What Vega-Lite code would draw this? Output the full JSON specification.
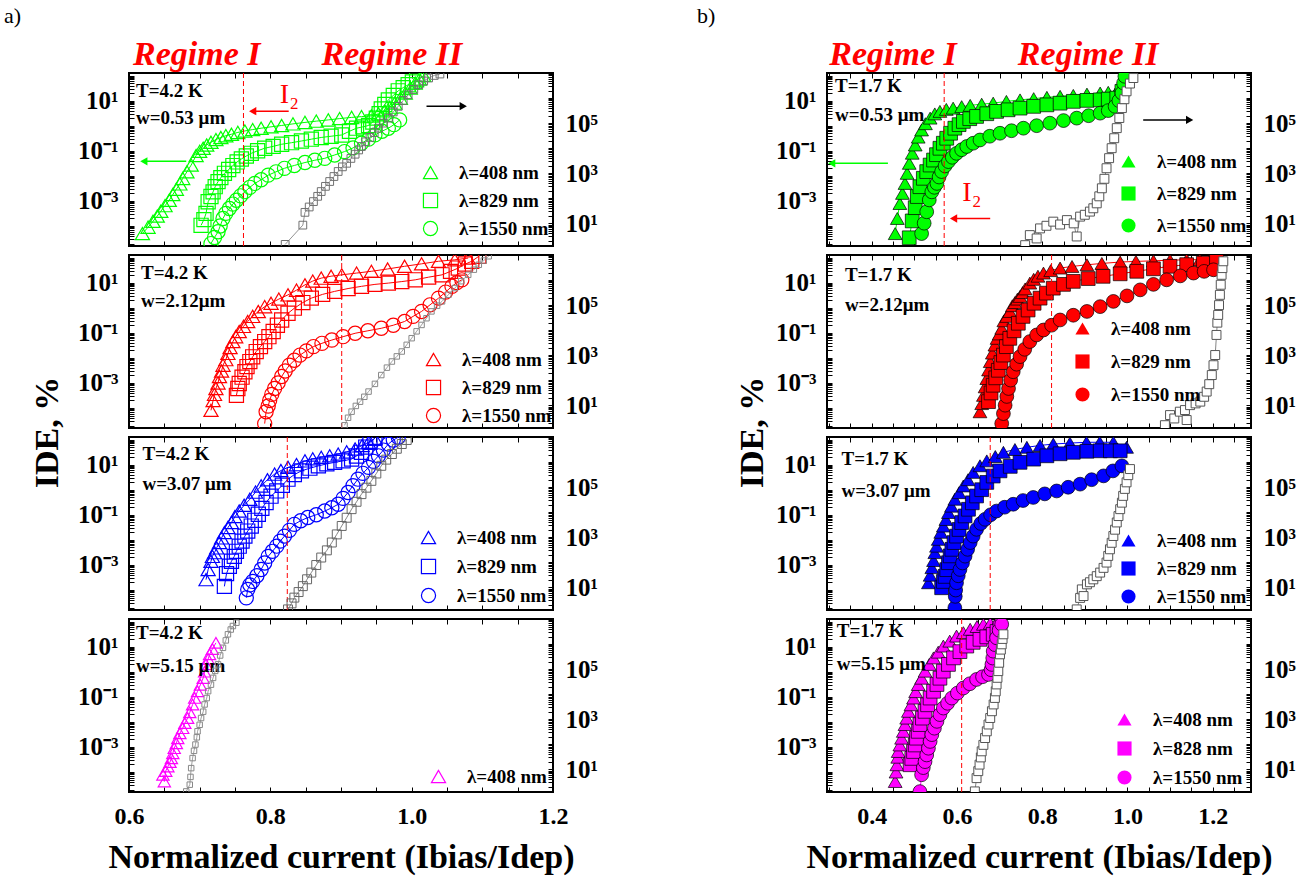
{
"$schema":"https://vega.github.io/schema/vega-lite/v6.json",
"padding":{"left":4,"top":4,"right":5,"bottom":5},
"spacing":98,
"config":{
 "font":"Liberation Serif",
 "view":{"stroke":"black","strokeWidth":2},
 "axis":{"domain":false,"grid":false,"tickSize":5,"offset":-5,"tickColor":"black","tickWidth":1,"labelFont":"Liberation Serif","labelFontSize":24,"labelFontWeight":"bold","labelColor":"black","labelOverlap":false,"labelFlush":false,"titleFont":"Liberation Serif","titleFontSize":34,"titleFontWeight":"bold","titleColor":"black","minExtent":0},
 "axisY":{"labelFontSize":25},
 "legend":{"labelFont":"Liberation Serif","labelFontSize":19,"labelFontWeight":"bold","labelColor":"black"},
 "title":{"font":"Liberation Serif","fontSize":22,"fontWeight":"normal","color":"black"}
},
"resolve":{"scale":{"shape":"independent","color":"independent"},"legend":{"shape":"independent","color":"independent"}},
"datasets":{
"A1":[
{"s":"408","x":0.619,"y":5e-5},{"s":"408","x":0.627,"y":9e-5},{"s":"408","x":0.634,"y":1.55e-4},{"s":"408","x":0.640,"y":2.5e-4},{"s":"408","x":0.645,"y":3.9e-4},{"s":"408","x":0.651,"y":6.5e-4},{"s":"408","x":0.657,"y":1.07e-3},{"s":"408","x":0.662,"y":1.8e-3},{"s":"408","x":0.667,"y":2.95e-3},{"s":"408","x":0.672,"y":4.8e-3},{"s":"408","x":0.676,"y":7.9e-3},{"s":"408","x":0.682,"y":0.0145},{"s":"408","x":0.688,"y":0.0269},{"s":"408","x":0.695,"y":0.0646},{"s":"408","x":0.700,"y":0.095},{"s":"408","x":0.705,"y":0.126},{"s":"408","x":0.710,"y":0.17},{"s":"408","x":0.716,"y":0.219},{"s":"408","x":0.723,"y":0.28},{"s":"408","x":0.730,"y":0.339},{"s":"408","x":0.737,"y":0.40},{"s":"408","x":0.745,"y":0.457},{"s":"408","x":0.754,"y":0.54},{"s":"408","x":0.764,"y":0.617},{"s":"408","x":0.775,"y":0.70},{"s":"408","x":0.787,"y":0.794},{"s":"408","x":0.801,"y":0.90},{"s":"408","x":0.816,"y":1.02},{"s":"408","x":0.832,"y":1.18},{"s":"408","x":0.849,"y":1.35},{"s":"408","x":0.865,"y":1.52},{"s":"408","x":0.882,"y":1.70},{"s":"408","x":0.898,"y":1.92},{"s":"408","x":0.915,"y":2.14},{"s":"408","x":0.929,"y":2.3},{"s":"408","x":0.943,"y":2.45},{"s":"408","x":0.953,"y":3.0},{"s":"408","x":0.962,"y":3.89},{"s":"408","x":0.969,"y":5.5},{"s":"408","x":0.976,"y":7.94},{"s":"408","x":0.984,"y":12.5},{"s":"408","x":0.991,"y":20},{"s":"408","x":0.998,"y":32},{"s":"408","x":1.005,"y":50},{"s":"408","x":1.011,"y":72},{"s":"408","x":1.017,"y":102},
{"s":"829","x":0.702,"y":1.07e-4},{"s":"829","x":0.706,"y":1.8e-4},{"s":"829","x":0.709,"y":3.2e-4},{"s":"829","x":0.712,"y":9.3e-4},{"s":"829","x":0.716,"y":1.5e-3},{"s":"829","x":0.719,"y":2.3e-3},{"s":"829","x":0.722,"y":3.7e-3},{"s":"829","x":0.726,"y":5.9e-3},{"s":"829","x":0.730,"y":8.5e-3},{"s":"829","x":0.735,"y":0.0126},{"s":"829","x":0.741,"y":0.018},{"s":"829","x":0.747,"y":0.0257},{"s":"829","x":0.753,"y":0.036},{"s":"829","x":0.759,"y":0.047},{"s":"829","x":0.766,"y":0.062},{"s":"829","x":0.773,"y":0.079},{"s":"829","x":0.782,"y":0.10},{"s":"829","x":0.792,"y":0.126},{"s":"829","x":0.804,"y":0.15},{"s":"829","x":0.816,"y":0.182},{"s":"829","x":0.830,"y":0.21},{"s":"829","x":0.844,"y":0.245},{"s":"829","x":0.858,"y":0.29},{"s":"829","x":0.872,"y":0.339},{"s":"829","x":0.886,"y":0.38},{"s":"829","x":0.901,"y":0.427},{"s":"829","x":0.912,"y":0.6},{"s":"829","x":0.922,"y":0.794},{"s":"829","x":0.931,"y":0.9},{"s":"829","x":0.939,"y":1.02},{"s":"829","x":0.945,"y":1.4},{"s":"829","x":0.950,"y":2.0},{"s":"829","x":0.954,"y":3.0},{"s":"829","x":0.957,"y":4.68},{"s":"829","x":0.962,"y":7.0},{"s":"829","x":0.967,"y":10.7},{"s":"829","x":0.974,"y":16},{"s":"829","x":0.981,"y":24.5},{"s":"829","x":0.988,"y":33},{"s":"829","x":0.995,"y":42.7},{"s":"829","x":1.001,"y":55},{"s":"829","x":1.007,"y":67.6},
{"s":"1550","x":0.716,"y":2.0e-5},{"s":"1550","x":0.721,"y":3.5e-5},{"s":"1550","x":0.726,"y":5.9e-5},{"s":"1550","x":0.729,"y":1.0e-4},{"s":"1550","x":0.733,"y":2.0e-4},{"s":"1550","x":0.737,"y":3.2e-4},{"s":"1550","x":0.742,"y":5.0e-4},{"s":"1550","x":0.747,"y":7.5e-4},{"s":"1550","x":0.752,"y":1.07e-3},{"s":"1550","x":0.758,"y":1.6e-3},{"s":"1550","x":0.764,"y":2.34e-3},{"s":"1550","x":0.771,"y":3.5e-3},{"s":"1550","x":0.778,"y":5.0e-3},{"s":"1550","x":0.787,"y":7.0e-3},{"s":"1550","x":0.797,"y":0.0107},{"s":"1550","x":0.808,"y":0.0145},{"s":"1550","x":0.820,"y":0.020},{"s":"1550","x":0.834,"y":0.026},{"s":"1550","x":0.849,"y":0.034},{"s":"1550","x":0.863,"y":0.042},{"s":"1550","x":0.877,"y":0.050},{"s":"1550","x":0.891,"y":0.068},{"s":"1550","x":0.905,"y":0.093},{"s":"1550","x":0.917,"y":0.13},{"s":"1550","x":0.929,"y":0.20},{"s":"1550","x":0.939,"y":0.29},{"s":"1550","x":0.948,"y":0.43},{"s":"1550","x":0.958,"y":0.6},{"s":"1550","x":0.967,"y":0.794},{"s":"1550","x":0.975,"y":1.1},{"s":"1550","x":0.983,"y":1.7},
{"s":"cnt","x":0.821,"y":1.45},{"s":"cnt","x":0.846,"y":8.5},{"s":"cnt","x":0.849,"y":27.5},{"s":"cnt","x":0.855,"y":45},{"s":"cnt","x":0.861,"y":74},{"s":"cnt","x":0.867,"y":120},{"s":"cnt","x":0.872,"y":186},{"s":"cnt","x":0.878,"y":300},{"s":"cnt","x":0.884,"y":468},{"s":"cnt","x":0.890,"y":740},{"s":"cnt","x":0.896,"y":1175},{"s":"cnt","x":0.902,"y":1800},{"s":"cnt","x":0.908,"y":2500},{"s":"cnt","x":0.914,"y":3900},{"s":"cnt","x":0.920,"y":5750},{"s":"cnt","x":0.925,"y":8500},{"s":"cnt","x":0.929,"y":11700},{"s":"cnt","x":0.935,"y":18000},{"s":"cnt","x":0.941,"y":26900},{"s":"cnt","x":0.947,"y":42000},{"s":"cnt","x":0.953,"y":63000},{"s":"cnt","x":0.960,"y":100000},{"s":"cnt","x":0.967,"y":158000},{"s":"cnt","x":0.974,"y":280000},{"s":"cnt","x":0.981,"y":468000},{"s":"cnt","x":0.988,"y":800000},{"s":"cnt","x":0.995,"y":1350000},{"s":"cnt","x":1.003,"y":2200000},{"s":"cnt","x":1.010,"y":3390000},{"s":"cnt","x":1.017,"y":4800000},{"s":"cnt","x":1.024,"y":6300000},{"s":"cnt","x":1.032,"y":8000000},{"s":"cnt","x":1.040,"y":9100000}
],
"A2":[
{"s":"408","x":0.716,"y":8.1e-5},{"s":"408","x":0.719,"y":2.0e-4},{"s":"408","x":0.721,"y":3.5e-4},{"s":"408","x":0.723,"y":6.0e-4},{"s":"408","x":0.726,"y":1.0e-3},{"s":"408","x":0.728,"y":1.8e-3},{"s":"408","x":0.731,"y":3.0e-3},{"s":"408","x":0.733,"y":5.1e-3},{"s":"408","x":0.737,"y":8.5e-3},{"s":"408","x":0.740,"y":0.0151},{"s":"408","x":0.743,"y":0.026},{"s":"408","x":0.747,"y":0.0447},{"s":"408","x":0.751,"y":0.07},{"s":"408","x":0.756,"y":0.112},{"s":"408","x":0.762,"y":0.18},{"s":"408","x":0.768,"y":0.282},{"s":"408","x":0.775,"y":0.45},{"s":"408","x":0.783,"y":0.708},{"s":"408","x":0.792,"y":1.1},{"s":"408","x":0.801,"y":1.51},{"s":"408","x":0.812,"y":2.2},{"s":"408","x":0.825,"y":3.24},{"s":"408","x":0.837,"y":5.0},{"s":"408","x":0.849,"y":8.13},{"s":"408","x":0.860,"y":11.5},{"s":"408","x":0.872,"y":15.1},{"s":"408","x":0.886,"y":18},{"s":"408","x":0.901,"y":20.4},{"s":"408","x":0.922,"y":24},{"s":"408","x":0.943,"y":28.2},{"s":"408","x":0.966,"y":35},{"s":"408","x":0.990,"y":44.7},{"s":"408","x":1.014,"y":56},{"s":"408","x":1.038,"y":70.8},{"s":"408","x":1.061,"y":81},{"s":"408","x":1.080,"y":95},
{"s":"829","x":0.752,"y":3.2e-4},{"s":"829","x":0.754,"y":6.0e-4},{"s":"829","x":0.756,"y":9.5e-4},{"s":"829","x":0.760,"y":1.7e-3},{"s":"829","x":0.764,"y":2.8e-3},{"s":"829","x":0.767,"y":4.5e-3},{"s":"829","x":0.771,"y":7.1e-3},{"s":"829","x":0.775,"y":0.011},{"s":"829","x":0.780,"y":0.0178},{"s":"829","x":0.786,"y":0.028},{"s":"829","x":0.792,"y":0.0447},{"s":"829","x":0.798,"y":0.07},{"s":"829","x":0.804,"y":0.112},{"s":"829","x":0.810,"y":0.2},{"s":"829","x":0.816,"y":0.324},{"s":"829","x":0.825,"y":0.6},{"s":"829","x":0.834,"y":0.955},{"s":"829","x":0.846,"y":1.6},{"s":"829","x":0.858,"y":2.4},{"s":"829","x":0.874,"y":3.4},{"s":"829","x":0.891,"y":4.47},{"s":"829","x":0.910,"y":5.8},{"s":"829","x":0.929,"y":7.1},{"s":"829","x":0.948,"y":8.5},{"s":"829","x":0.967,"y":9.55},{"s":"829","x":0.986,"y":11},{"s":"829","x":1.005,"y":12.9},{"s":"829","x":1.024,"y":16.5},{"s":"829","x":1.043,"y":20.4},{"s":"829","x":1.055,"y":28},{"s":"829","x":1.066,"y":38},{"s":"829","x":1.076,"y":55},{"s":"829","x":1.085,"y":70.8},{"s":"829","x":1.095,"y":112},
{"s":"1550","x":0.792,"y":2.4e-5},{"s":"1550","x":0.794,"y":7.1e-5},{"s":"1550","x":0.797,"y":1.2e-4},{"s":"1550","x":0.799,"y":2.0e-4},{"s":"1550","x":0.802,"y":3.5e-4},{"s":"1550","x":0.806,"y":6.0e-4},{"s":"1550","x":0.811,"y":1.0e-3},{"s":"1550","x":0.816,"y":1.8e-3},{"s":"1550","x":0.821,"y":3.0e-3},{"s":"1550","x":0.827,"y":5.1e-3},{"s":"1550","x":0.834,"y":8.0e-3},{"s":"1550","x":0.842,"y":0.0129},{"s":"1550","x":0.851,"y":0.019},{"s":"1550","x":0.861,"y":0.0282},{"s":"1550","x":0.873,"y":0.038},{"s":"1550","x":0.887,"y":0.0513},{"s":"1550","x":0.903,"y":0.07},{"s":"1550","x":0.920,"y":0.0955},{"s":"1550","x":0.938,"y":0.12},{"s":"1550","x":0.957,"y":0.151},{"s":"1550","x":0.974,"y":0.2},{"s":"1550","x":0.990,"y":0.282},{"s":"1550","x":1.002,"y":0.45},{"s":"1550","x":1.014,"y":0.708},{"s":"1550","x":1.026,"y":1.3},{"s":"1550","x":1.038,"y":2.4},{"s":"1550","x":1.048,"y":4.2},{"s":"1550","x":1.057,"y":7.1},{"s":"1550","x":1.064,"y":10},{"s":"1550","x":1.071,"y":12.9},
{"s":"cnt","x":0.905,"y":1.6},{"s":"cnt","x":0.910,"y":3.2},{"s":"cnt","x":0.915,"y":5.6},{"s":"cnt","x":0.921,"y":9.5},{"s":"cnt","x":0.927,"y":14},{"s":"cnt","x":0.933,"y":22},{"s":"cnt","x":0.939,"y":35.5},{"s":"cnt","x":0.948,"y":72},{"s":"cnt","x":0.957,"y":162},{"s":"cnt","x":0.965,"y":320},{"s":"cnt","x":0.972,"y":562},{"s":"cnt","x":0.979,"y":900},{"s":"cnt","x":0.986,"y":1410},{"s":"cnt","x":0.993,"y":2600},{"s":"cnt","x":1.000,"y":4790},{"s":"cnt","x":1.007,"y":9000},{"s":"cnt","x":1.014,"y":16200},{"s":"cnt","x":1.021,"y":30000},{"s":"cnt","x":1.028,"y":56200},{"s":"cnt","x":1.036,"y":95000},{"s":"cnt","x":1.043,"y":141000},{"s":"cnt","x":1.052,"y":260000},{"s":"cnt","x":1.061,"y":479000},{"s":"cnt","x":1.070,"y":900000},{"s":"cnt","x":1.080,"y":1620000},{"s":"cnt","x":1.088,"y":2600000},{"s":"cnt","x":1.095,"y":4070000},{"s":"cnt","x":1.102,"y":6000000},{"s":"cnt","x":1.109,"y":8900000}
],
"A3":[
{"s":"408","x":0.709,"y":2.6e-4},{"s":"408","x":0.712,"y":6.6e-4},{"s":"408","x":0.716,"y":1.4e-3},{"s":"408","x":0.718,"y":2.2e-3},{"s":"408","x":0.721,"y":3.1e-3},{"s":"408","x":0.724,"y":4.8e-3},{"s":"408","x":0.728,"y":7.8e-3},{"s":"408","x":0.731,"y":0.012},{"s":"408","x":0.735,"y":0.0195},{"s":"408","x":0.740,"y":0.031},{"s":"408","x":0.745,"y":0.049},{"s":"408","x":0.750,"y":0.085},{"s":"408","x":0.756,"y":0.141},{"s":"408","x":0.763,"y":0.24},{"s":"408","x":0.771,"y":0.417},{"s":"408","x":0.779,"y":0.8},{"s":"408","x":0.787,"y":1.41},{"s":"408","x":0.796,"y":2.5},{"s":"408","x":0.806,"y":4.17},{"s":"408","x":0.815,"y":5.8},{"s":"408","x":0.825,"y":7.76},{"s":"408","x":0.837,"y":10},{"s":"408","x":0.849,"y":14.1},{"s":"408","x":0.860,"y":17},{"s":"408","x":0.872,"y":19.5},{"s":"408","x":0.884,"y":22.4},{"s":"408","x":0.896,"y":26.3},{"s":"408","x":0.908,"y":32},{"s":"408","x":0.920,"y":41.7},{"s":"408","x":0.930,"y":58},{"s":"408","x":0.939,"y":77.6},{"s":"408","x":0.948,"y":112},
{"s":"829","x":0.735,"y":1.4e-4},{"s":"829","x":0.738,"y":4.5e-4},{"s":"829","x":0.742,"y":8.9e-4},{"s":"829","x":0.745,"y":1.4e-3},{"s":"829","x":0.749,"y":2.2e-3},{"s":"829","x":0.752,"y":3.5e-3},{"s":"829","x":0.756,"y":5.6e-3},{"s":"829","x":0.760,"y":8.9e-3},{"s":"829","x":0.764,"y":0.0141},{"s":"829","x":0.768,"y":0.0224},{"s":"829","x":0.773,"y":0.0355},{"s":"829","x":0.778,"y":0.06},{"s":"829","x":0.783,"y":0.105},{"s":"829","x":0.788,"y":0.18},{"s":"829","x":0.794,"y":0.309},{"s":"829","x":0.801,"y":0.55},{"s":"829","x":0.809,"y":0.891},{"s":"829","x":0.817,"y":1.5},{"s":"829","x":0.825,"y":2.63},{"s":"829","x":0.834,"y":4.0},{"s":"829","x":0.844,"y":5.62},{"s":"829","x":0.856,"y":7.2},{"s":"829","x":0.868,"y":8.91},{"s":"829","x":0.880,"y":10.7},{"s":"829","x":0.891,"y":12.3},{"s":"829","x":0.903,"y":14.1},{"s":"829","x":0.915,"y":16.6},{"s":"829","x":0.922,"y":22},{"s":"829","x":0.929,"y":30.9},{"s":"829","x":0.935,"y":50},{"s":"829","x":0.941,"y":77.6},{"s":"829","x":0.948,"y":112},
{"s":"1550","x":0.766,"y":4.9e-5},{"s":"1550","x":0.768,"y":1.05e-4},{"s":"1550","x":0.771,"y":1.6e-4},{"s":"1550","x":0.775,"y":2.2e-4},{"s":"1550","x":0.781,"y":3.7e-4},{"s":"1550","x":0.787,"y":6.6e-4},{"s":"1550","x":0.792,"y":1.2e-3},{"s":"1550","x":0.797,"y":2.2e-3},{"s":"1550","x":0.803,"y":3.5e-3},{"s":"1550","x":0.809,"y":5.6e-3},{"s":"1550","x":0.814,"y":8.9e-3},{"s":"1550","x":0.820,"y":0.0141},{"s":"1550","x":0.827,"y":0.024},{"s":"1550","x":0.834,"y":0.0417},{"s":"1550","x":0.843,"y":0.058},{"s":"1550","x":0.853,"y":0.0776},{"s":"1550","x":0.865,"y":0.1},{"s":"1550","x":0.877,"y":0.141},{"s":"1550","x":0.887,"y":0.19},{"s":"1550","x":0.896,"y":0.263},{"s":"1550","x":0.903,"y":0.45},{"s":"1550","x":0.910,"y":0.776},{"s":"1550","x":0.917,"y":1.45},{"s":"1550","x":0.924,"y":2.63},{"s":"1550","x":0.931,"y":4.5},{"s":"1550","x":0.939,"y":7.76},{"s":"1550","x":0.946,"y":13.5},{"s":"1550","x":0.953,"y":22.4},{"s":"1550","x":0.960,"y":38},{"s":"1550","x":0.967,"y":66},{"s":"1550","x":0.974,"y":95},{"s":"1550","x":0.981,"y":123},
{"s":"cnt","x":0.825,"y":1.32},{"s":"cnt","x":0.830,"y":2.3},{"s":"cnt","x":0.834,"y":3.9},{"s":"cnt","x":0.840,"y":6.5},{"s":"cnt","x":0.846,"y":11.2},{"s":"cnt","x":0.852,"y":21},{"s":"cnt","x":0.858,"y":38.9},{"s":"cnt","x":0.865,"y":78},{"s":"cnt","x":0.872,"y":155},{"s":"cnt","x":0.880,"y":300},{"s":"cnt","x":0.887,"y":617},{"s":"cnt","x":0.894,"y":1300},{"s":"cnt","x":0.901,"y":2820},{"s":"cnt","x":0.908,"y":6000},{"s":"cnt","x":0.915,"y":13200},{"s":"cnt","x":0.922,"y":26000},{"s":"cnt","x":0.929,"y":52500},{"s":"cnt","x":0.936,"y":95000},{"s":"cnt","x":0.943,"y":178000},{"s":"cnt","x":0.950,"y":350000},{"s":"cnt","x":0.957,"y":708000},{"s":"cnt","x":0.964,"y":1250000},{"s":"cnt","x":0.972,"y":2090000},{"s":"cnt","x":0.979,"y":3400000},{"s":"cnt","x":0.986,"y":5250000},{"s":"cnt","x":0.993,"y":7600000}
],
"A4":[
{"s":"408","x":0.650,"y":4.2e-5},{"s":"408","x":0.648,"y":7.8e-5},{"s":"408","x":0.652,"y":1.1e-4},{"s":"408","x":0.655,"y":1.66e-4},{"s":"408","x":0.658,"y":2.5e-4},{"s":"408","x":0.660,"y":3.5e-4},{"s":"408","x":0.662,"y":5.6e-4},{"s":"408","x":0.664,"y":8.9e-4},{"s":"408","x":0.667,"y":1.4e-3},{"s":"408","x":0.669,"y":2.2e-3},{"s":"408","x":0.672,"y":3.5e-3},{"s":"408","x":0.676,"y":5.6e-3},{"s":"408","x":0.679,"y":8.9e-3},{"s":"408","x":0.683,"y":0.0141},{"s":"408","x":0.686,"y":0.024},{"s":"408","x":0.690,"y":0.049},{"s":"408","x":0.693,"y":0.09},{"s":"408","x":0.697,"y":0.166},{"s":"408","x":0.701,"y":0.3},{"s":"408","x":0.705,"y":0.56},{"s":"408","x":0.707,"y":1.0},{"s":"408","x":0.709,"y":1.95},{"s":"408","x":0.712,"y":3.2},{"s":"408","x":0.714,"y":4.9},{"s":"408","x":0.718,"y":8.0},{"s":"408","x":0.723,"y":14.1},
{"s":"cnt","x":0.681,"y":1.32},{"s":"cnt","x":0.686,"y":2.45},{"s":"cnt","x":0.687,"y":5.0},{"s":"cnt","x":0.688,"y":11.2},{"s":"cnt","x":0.690,"y":28.2},{"s":"cnt","x":0.692,"y":55},{"s":"cnt","x":0.694,"y":97.7},{"s":"cnt","x":0.696,"y":190},{"s":"cnt","x":0.697,"y":331},{"s":"cnt","x":0.700,"y":600},{"s":"cnt","x":0.702,"y":1120},{"s":"cnt","x":0.705,"y":2000},{"s":"cnt","x":0.707,"y":3890},{"s":"cnt","x":0.710,"y":7000},{"s":"cnt","x":0.712,"y":13200},{"s":"cnt","x":0.716,"y":24000},{"s":"cnt","x":0.719,"y":44700},{"s":"cnt","x":0.722,"y":85000},{"s":"cnt","x":0.726,"y":155000},{"s":"cnt","x":0.729,"y":350000},{"s":"cnt","x":0.733,"y":708000},{"s":"cnt","x":0.737,"y":1400000},{"s":"cnt","x":0.740,"y":2450000},{"s":"cnt","x":0.744,"y":3800000},{"s":"cnt","x":0.747,"y":5250000},{"s":"cnt","x":0.752,"y":7100000}
],
"B1":[
{"s":"408","x":0.455,"y":5.0e-5},{"s":"408","x":0.460,"y":2.0e-4},{"s":"408","x":0.466,"y":7.9e-4},{"s":"408","x":0.472,"y":2.0e-3},{"s":"408","x":0.478,"y":5.0e-3},{"s":"408","x":0.483,"y":0.0126},{"s":"408","x":0.488,"y":0.0316},{"s":"408","x":0.495,"y":0.08},{"s":"408","x":0.502,"y":0.17},{"s":"408","x":0.509,"y":0.35},{"s":"408","x":0.517,"y":0.676},{"s":"408","x":0.526,"y":1.2},{"s":"408","x":0.537,"y":2.0},{"s":"408","x":0.548,"y":2.95},{"s":"408","x":0.560,"y":3.72},{"s":"408","x":0.575,"y":4.47},{"s":"408","x":0.591,"y":5.01},{"s":"408","x":0.611,"y":5.75},{"s":"408","x":0.631,"y":6.46},{"s":"408","x":0.658,"y":7.2},{"s":"408","x":0.685,"y":7.94},{"s":"408","x":0.716,"y":9.3},{"s":"408","x":0.748,"y":10.7},{"s":"408","x":0.780,"y":12.0},{"s":"408","x":0.811,"y":13.5},{"s":"408","x":0.842,"y":14.8},{"s":"408","x":0.873,"y":16.2},{"s":"408","x":0.905,"y":18.2},{"s":"408","x":0.936,"y":20},{"s":"408","x":0.955,"y":21.4},{"s":"408","x":0.975,"y":23.4},{"s":"408","x":0.983,"y":40},{"s":"408","x":0.991,"y":58.9},
{"s":"829","x":0.488,"y":3.4e-5},{"s":"829","x":0.495,"y":1.6e-4},{"s":"829","x":0.502,"y":5.4e-4},{"s":"829","x":0.507,"y":1.5e-3},{"s":"829","x":0.513,"y":3.7e-3},{"s":"829","x":0.521,"y":8e-3},{"s":"829","x":0.529,"y":0.0148},{"s":"829","x":0.537,"y":0.027},{"s":"829","x":0.545,"y":0.0427},{"s":"829","x":0.552,"y":0.07},{"s":"829","x":0.560,"y":0.126},{"s":"829","x":0.568,"y":0.2},{"s":"829","x":0.576,"y":0.316},{"s":"829","x":0.585,"y":0.5},{"s":"829","x":0.595,"y":0.794},{"s":"829","x":0.605,"y":1.1},{"s":"829","x":0.615,"y":1.48},{"s":"829","x":0.630,"y":1.9},{"s":"829","x":0.646,"y":2.34},{"s":"829","x":0.670,"y":3.0},{"s":"829","x":0.693,"y":3.72},{"s":"829","x":0.720,"y":4.3},{"s":"829","x":0.748,"y":5.01},{"s":"829","x":0.780,"y":5.9},{"s":"829","x":0.811,"y":6.76},{"s":"829","x":0.842,"y":7.9},{"s":"829","x":0.873,"y":9.33},{"s":"829","x":0.905,"y":10.2},{"s":"829","x":0.936,"y":10.7},{"s":"829","x":0.955,"y":11.5},{"s":"829","x":0.975,"y":12.6},{"s":"829","x":0.987,"y":23.4},
{"s":"1550","x":0.517,"y":5.0e-5},{"s":"1550","x":0.523,"y":1.3e-4},{"s":"1550","x":0.529,"y":3.7e-4},{"s":"1550","x":0.535,"y":1.1e-3},{"s":"1550","x":0.541,"y":2.3e-3},{"s":"1550","x":0.547,"y":3.5e-3},{"s":"1550","x":0.553,"y":5.0e-3},{"s":"1550","x":0.558,"y":9e-3},{"s":"1550","x":0.564,"y":0.0148},{"s":"1550","x":0.572,"y":0.025},{"s":"1550","x":0.580,"y":0.037},{"s":"1550","x":0.589,"y":0.055},{"s":"1550","x":0.599,"y":0.079},{"s":"1550","x":0.611,"y":0.11},{"s":"1550","x":0.623,"y":0.148},{"s":"1550","x":0.638,"y":0.2},{"s":"1550","x":0.654,"y":0.269},{"s":"1550","x":0.677,"y":0.38},{"s":"1550","x":0.701,"y":0.50},{"s":"1550","x":0.728,"y":0.63},{"s":"1550","x":0.756,"y":0.794},{"s":"1550","x":0.787,"y":1.0},{"s":"1550","x":0.818,"y":1.26},{"s":"1550","x":0.850,"y":1.6},{"s":"1550","x":0.881,"y":2.0},{"s":"1550","x":0.909,"y":2.5},{"s":"1550","x":0.936,"y":3.16},{"s":"1550","x":0.955,"y":4.0},{"s":"1550","x":0.971,"y":5.9},{"s":"1550","x":0.980,"y":10},{"s":"1550","x":0.987,"y":20},{"s":"1550","x":0.991,"y":50},{"s":"1550","x":0.994,"y":93},
{"s":"cnt","x":0.760,"y":1.35},{"s":"cnt","x":0.771,"y":3.4},{"s":"cnt","x":0.787,"y":2.5},{"s":"cnt","x":0.795,"y":6.3},{"s":"cnt","x":0.810,"y":8},{"s":"cnt","x":0.826,"y":11.7},{"s":"cnt","x":0.842,"y":9},{"s":"cnt","x":0.858,"y":13.5},{"s":"cnt","x":0.874,"y":10},{"s":"cnt","x":0.881,"y":3},{"s":"cnt","x":0.889,"y":18.6},{"s":"cnt","x":0.900,"y":22},{"s":"cnt","x":0.912,"y":29.5},{"s":"cnt","x":0.920,"y":40},{"s":"cnt","x":0.928,"y":63},{"s":"cnt","x":0.934,"y":120},{"s":"cnt","x":0.940,"y":251},{"s":"cnt","x":0.946,"y":600},{"s":"cnt","x":0.951,"y":1585},{"s":"cnt","x":0.957,"y":4000},{"s":"cnt","x":0.963,"y":10000},{"s":"cnt","x":0.969,"y":25000},{"s":"cnt","x":0.975,"y":63100},{"s":"cnt","x":0.981,"y":160000},{"s":"cnt","x":0.987,"y":398000},{"s":"cnt","x":0.993,"y":900000},{"s":"cnt","x":0.998,"y":1860000},{"s":"cnt","x":1.006,"y":3800000},{"s":"cnt","x":1.014,"y":6300000}
],
"B2":[
{"s":"408","x":0.654,"y":7.1e-5},{"s":"408","x":0.658,"y":1.5e-4},{"s":"408","x":0.662,"y":3.2e-4},{"s":"408","x":0.666,"y":7.0e-4},{"s":"408","x":0.670,"y":1.5e-3},{"s":"408","x":0.674,"y":3.3e-3},{"s":"408","x":0.678,"y":7.1e-3},{"s":"408","x":0.683,"y":0.0155},{"s":"408","x":0.689,"y":0.0324},{"s":"408","x":0.694,"y":0.06},{"s":"408","x":0.699,"y":0.09},{"s":"408","x":0.705,"y":0.151},{"s":"408","x":0.710,"y":0.3},{"s":"408","x":0.717,"y":0.45},{"s":"408","x":0.724,"y":0.708},{"s":"408","x":0.730,"y":1.2},{"s":"408","x":0.736,"y":1.6},{"s":"408","x":0.742,"y":2.2},{"s":"408","x":0.748,"y":2.82},{"s":"408","x":0.754,"y":4.0},{"s":"408","x":0.760,"y":5.6},{"s":"408","x":0.771,"y":9.55},{"s":"408","x":0.780,"y":13.5},{"s":"408","x":0.790,"y":18},{"s":"408","x":0.803,"y":24},{"s":"408","x":0.820,"y":30},{"s":"408","x":0.842,"y":38},{"s":"408","x":0.870,"y":44},{"s":"408","x":0.905,"y":51.3},{"s":"408","x":0.940,"y":58},{"s":"408","x":0.983,"y":66},{"s":"408","x":1.020,"y":70},{"s":"408","x":1.061,"y":74},{"s":"408","x":1.100,"y":78},{"s":"408","x":1.139,"y":81.3},{"s":"408","x":1.170,"y":82},{"s":"408","x":1.194,"y":82},
{"s":"829","x":0.674,"y":1.8e-4},{"s":"829","x":0.680,"y":4e-4},{"s":"829","x":0.685,"y":8.1e-4},{"s":"829","x":0.691,"y":1.6e-3},{"s":"829","x":0.697,"y":3.2e-3},{"s":"829","x":0.703,"y":6.5e-3},{"s":"829","x":0.709,"y":0.0129},{"s":"829","x":0.716,"y":0.028},{"s":"829","x":0.724,"y":0.06},{"s":"829","x":0.734,"y":0.12},{"s":"829","x":0.744,"y":0.24},{"s":"829","x":0.755,"y":0.45},{"s":"829","x":0.767,"y":0.81},{"s":"829","x":0.781,"y":1.5},{"s":"829","x":0.795,"y":2.4},{"s":"829","x":0.810,"y":3.8},{"s":"829","x":0.826,"y":6.0},{"s":"829","x":0.850,"y":8.5},{"s":"829","x":0.873,"y":11.2},{"s":"829","x":0.908,"y":14.5},{"s":"829","x":0.943,"y":17.8},{"s":"829","x":0.983,"y":22.4},{"s":"829","x":1.022,"y":28.2},{"s":"829","x":1.061,"y":35.5},{"s":"829","x":1.100,"y":44.7},{"s":"829","x":1.139,"y":52},{"s":"829","x":1.178,"y":60},{"s":"829","x":1.209,"y":70.8},
{"s":"1550","x":0.705,"y":2.4e-5},{"s":"1550","x":0.709,"y":6e-5},{"s":"1550","x":0.713,"y":1.3e-4},{"s":"1550","x":0.717,"y":2.9e-4},{"s":"1550","x":0.721,"y":6.0e-4},{"s":"1550","x":0.726,"y":1.3e-3},{"s":"1550","x":0.732,"y":2.8e-3},{"s":"1550","x":0.740,"y":5.6e-3},{"s":"1550","x":0.748,"y":0.0112},{"s":"1550","x":0.759,"y":0.022},{"s":"1550","x":0.771,"y":0.0447},{"s":"1550","x":0.787,"y":0.082},{"s":"1550","x":0.803,"y":0.129},{"s":"1550","x":0.822,"y":0.2},{"s":"1550","x":0.842,"y":0.324},{"s":"1550","x":0.873,"y":0.5},{"s":"1550","x":0.905,"y":0.708},{"s":"1550","x":0.936,"y":1.1},{"s":"1550","x":0.967,"y":1.78},{"s":"1550","x":0.999,"y":2.95},{"s":"1550","x":1.030,"y":5.13},{"s":"1550","x":1.061,"y":8.5},{"s":"1550","x":1.092,"y":12.9},{"s":"1550","x":1.124,"y":18.5},{"s":"1550","x":1.155,"y":24},{"s":"1550","x":1.180,"y":28},{"s":"1550","x":1.202,"y":32.4},
{"s":"cnt","x":1.088,"y":1.62},{"s":"cnt","x":1.100,"y":4.1},{"s":"cnt","x":1.110,"y":3.0},{"s":"cnt","x":1.123,"y":5.6},{"s":"cnt","x":1.135,"y":6.5},{"s":"cnt","x":1.139,"y":2.6},{"s":"cnt","x":1.147,"y":10.2},{"s":"cnt","x":1.160,"y":12},{"s":"cnt","x":1.171,"y":14.1},{"s":"cnt","x":1.180,"y":22},{"s":"cnt","x":1.186,"y":35.5},{"s":"cnt","x":1.192,"y":70},{"s":"cnt","x":1.198,"y":162},{"s":"cnt","x":1.202,"y":400},{"s":"cnt","x":1.206,"y":1020},{"s":"cnt","x":1.209,"y":6460},{"s":"cnt","x":1.211,"y":20000},{"s":"cnt","x":1.213,"y":40700},{"s":"cnt","x":1.215,"y":100000},{"s":"cnt","x":1.217,"y":257000},{"s":"cnt","x":1.219,"y":650000},{"s":"cnt","x":1.221,"y":1620000},{"s":"cnt","x":1.223,"y":3000000},{"s":"cnt","x":1.225,"y":5620000}
],
"B3":[
{"s":"408","x":0.533,"y":1.95e-4},{"s":"408","x":0.537,"y":3.9e-4},{"s":"408","x":0.541,"y":7.8e-4},{"s":"408","x":0.545,"y":1.5e-3},{"s":"408","x":0.548,"y":3.1e-3},{"s":"408","x":0.552,"y":5.6e-3},{"s":"408","x":0.556,"y":0.0105},{"s":"408","x":0.562,"y":0.02},{"s":"408","x":0.568,"y":0.0355},{"s":"408","x":0.574,"y":0.065},{"s":"408","x":0.580,"y":0.123},{"s":"408","x":0.587,"y":0.22},{"s":"408","x":0.595,"y":0.417},{"s":"408","x":0.605,"y":0.76},{"s":"408","x":0.615,"y":1.41},{"s":"408","x":0.626,"y":2.5},{"s":"408","x":0.638,"y":4.9},{"s":"408","x":0.654,"y":9.0},{"s":"408","x":0.670,"y":14.1},{"s":"408","x":0.690,"y":21},{"s":"408","x":0.709,"y":30.9},{"s":"408","x":0.736,"y":40},{"s":"408","x":0.764,"y":49},{"s":"408","x":0.795,"y":58},{"s":"408","x":0.826,"y":66},{"s":"408","x":0.865,"y":72},{"s":"408","x":0.904,"y":77.6},{"s":"408","x":0.935,"y":77.6},{"s":"408","x":0.967,"y":77.6},{"s":"408","x":0.998,"y":49},
{"s":"829","x":0.564,"y":1.23e-4},{"s":"829","x":0.568,"y":2.2e-4},{"s":"829","x":0.572,"y":3.5e-4},{"s":"829","x":0.576,"y":6.5e-4},{"s":"829","x":0.580,"y":1.23e-3},{"s":"829","x":0.584,"y":2.3e-3},{"s":"829","x":0.588,"y":4.2e-3},{"s":"829","x":0.593,"y":7.8e-3},{"s":"829","x":0.599,"y":0.0141},{"s":"829","x":0.605,"y":0.026},{"s":"829","x":0.611,"y":0.049},{"s":"829","x":0.619,"y":0.09},{"s":"829","x":0.627,"y":0.166},{"s":"829","x":0.636,"y":0.3},{"s":"829","x":0.646,"y":0.562},{"s":"829","x":0.658,"y":1.0},{"s":"829","x":0.670,"y":1.95},{"s":"829","x":0.685,"y":3.5},{"s":"829","x":0.701,"y":5.62},{"s":"829","x":0.725,"y":8.5},{"s":"829","x":0.748,"y":12.3},{"s":"829","x":0.780,"y":16.5},{"s":"829","x":0.811,"y":22.4},{"s":"829","x":0.842,"y":27},{"s":"829","x":0.873,"y":30.9},{"s":"829","x":0.905,"y":34},{"s":"829","x":0.936,"y":35.5},{"s":"829","x":0.960,"y":35.5},{"s":"829","x":0.983,"y":35.5},
{"s":"1550","x":0.595,"y":1.95e-5},{"s":"1550","x":0.596,"y":5.6e-5},{"s":"1550","x":0.597,"y":1.0e-4},{"s":"1550","x":0.599,"y":1.95e-4},{"s":"1550","x":0.603,"y":3.7e-4},{"s":"1550","x":0.607,"y":6.6e-4},{"s":"1550","x":0.613,"y":1.2e-3},{"s":"1550","x":0.619,"y":2.24e-3},{"s":"1550","x":0.625,"y":4.2e-3},{"s":"1550","x":0.631,"y":7.8e-3},{"s":"1550","x":0.638,"y":0.0141},{"s":"1550","x":0.646,"y":0.0263},{"s":"1550","x":0.656,"y":0.045},{"s":"1550","x":0.666,"y":0.066},{"s":"1550","x":0.679,"y":0.1},{"s":"1550","x":0.693,"y":0.141},{"s":"1550","x":0.712,"y":0.2},{"s":"1550","x":0.732,"y":0.263},{"s":"1550","x":0.755,"y":0.37},{"s":"1550","x":0.779,"y":0.49},{"s":"1550","x":0.806,"y":0.68},{"s":"1550","x":0.834,"y":0.89},{"s":"1550","x":0.861,"y":1.25},{"s":"1550","x":0.889,"y":1.66},{"s":"1550","x":0.916,"y":2.5},{"s":"1550","x":0.944,"y":3.55},{"s":"1550","x":0.966,"y":5.6},{"s":"1550","x":0.987,"y":8.9},
{"s":"cnt","x":0.881,"y":1.32},{"s":"cnt","x":0.889,"y":3.8},{"s":"cnt","x":0.893,"y":8.3},{"s":"cnt","x":0.897,"y":4.5},{"s":"cnt","x":0.905,"y":13.2},{"s":"cnt","x":0.912,"y":16},{"s":"cnt","x":0.920,"y":20.9},{"s":"cnt","x":0.928,"y":28},{"s":"cnt","x":0.936,"y":38.9},{"s":"cnt","x":0.944,"y":60},{"s":"cnt","x":0.951,"y":97.7},{"s":"cnt","x":0.955,"y":180},{"s":"cnt","x":0.959,"y":331},{"s":"cnt","x":0.963,"y":600},{"s":"cnt","x":0.967,"y":1120},{"s":"cnt","x":0.971,"y":2000},{"s":"cnt","x":0.975,"y":3890},{"s":"cnt","x":0.979,"y":7000},{"s":"cnt","x":0.983,"y":13200},{"s":"cnt","x":0.987,"y":24000},{"s":"cnt","x":0.990,"y":44700},{"s":"cnt","x":0.994,"y":85000},{"s":"cnt","x":0.998,"y":155000},{"s":"cnt","x":1.002,"y":300000},{"s":"cnt","x":1.006,"y":525000}
],
"B4":[
{"s":"408","x":0.455,"y":4.2e-5},{"s":"408","x":0.457,"y":1.0e-4},{"s":"408","x":0.459,"y":1.95e-4},{"s":"408","x":0.461,"y":3.9e-4},{"s":"408","x":0.462,"y":6.6e-4},{"s":"408","x":0.466,"y":1.2e-3},{"s":"408","x":0.470,"y":2.24e-3},{"s":"408","x":0.474,"y":4.2e-3},{"s":"408","x":0.478,"y":7.8e-3},{"s":"408","x":0.482,"y":0.0141},{"s":"408","x":0.486,"y":0.0263},{"s":"408","x":0.492,"y":0.0479},{"s":"408","x":0.498,"y":0.089},{"s":"408","x":0.503,"y":0.16},{"s":"408","x":0.509,"y":0.309},{"s":"408","x":0.517,"y":0.55},{"s":"408","x":0.525,"y":1.05},{"s":"408","x":0.535,"y":1.95},{"s":"408","x":0.545,"y":3.55},{"s":"408","x":0.556,"y":6.0},{"s":"408","x":0.568,"y":10.5},{"s":"408","x":0.583,"y":16.5},{"s":"408","x":0.599,"y":26.3},{"s":"408","x":0.615,"y":36},{"s":"408","x":0.631,"y":49},{"s":"408","x":0.647,"y":63},{"s":"408","x":0.662,"y":77.6},{"s":"408","x":0.678,"y":85},{"s":"408","x":0.693,"y":89},
{"s":"828","x":0.490,"y":1.95e-4},{"s":"828","x":0.494,"y":3.5e-4},{"s":"828","x":0.498,"y":6.6e-4},{"s":"828","x":0.502,"y":1.2e-3},{"s":"828","x":0.505,"y":2.24e-3},{"s":"828","x":0.509,"y":4.2e-3},{"s":"828","x":0.513,"y":7.8e-3},{"s":"828","x":0.519,"y":0.0141},{"s":"828","x":0.525,"y":0.0263},{"s":"828","x":0.531,"y":0.048},{"s":"828","x":0.537,"y":0.089},{"s":"828","x":0.545,"y":0.166},{"s":"828","x":0.553,"y":0.309},{"s":"828","x":0.560,"y":0.55},{"s":"828","x":0.568,"y":1.05},{"s":"828","x":0.580,"y":1.95},{"s":"828","x":0.592,"y":3.55},{"s":"828","x":0.607,"y":6.3},{"s":"828","x":0.623,"y":10.5},{"s":"828","x":0.638,"y":14.8},{"s":"828","x":0.654,"y":19.5},{"s":"828","x":0.670,"y":24.5},{"s":"828","x":0.685,"y":30.9},{"s":"828","x":0.694,"y":40},{"s":"828","x":0.701,"y":56},
{"s":"1550","x":0.513,"y":1.66e-5},{"s":"1550","x":0.517,"y":7.8e-5},{"s":"1550","x":0.521,"y":1.5e-4},{"s":"1550","x":0.525,"y":2.6e-4},{"s":"1550","x":0.529,"y":4.8e-4},{"s":"1550","x":0.533,"y":8.9e-4},{"s":"1550","x":0.537,"y":1.66e-3},{"s":"1550","x":0.541,"y":3.1e-3},{"s":"1550","x":0.547,"y":5.6e-3},{"s":"1550","x":0.553,"y":0.0105},{"s":"1550","x":0.560,"y":0.0195},{"s":"1550","x":0.568,"y":0.0355},{"s":"1550","x":0.578,"y":0.055},{"s":"1550","x":0.588,"y":0.089},{"s":"1550","x":0.601,"y":0.14},{"s":"1550","x":0.615,"y":0.224},{"s":"1550","x":0.630,"y":0.33},{"s":"1550","x":0.646,"y":0.49},{"s":"1550","x":0.660,"y":0.63},{"s":"1550","x":0.674,"y":0.776},{"s":"1550","x":0.680,"y":1.2},{"s":"1550","x":0.682,"y":1.95},{"s":"1550","x":0.684,"y":3.5},{"s":"1550","x":0.685,"y":6.6},{"s":"1550","x":0.689,"y":12},{"s":"1550","x":0.693,"y":22.4},{"s":"1550","x":0.699,"y":45},{"s":"1550","x":0.705,"y":77.6},
{"s":"cnt","x":0.642,"y":1.32},{"s":"cnt","x":0.646,"y":4.47},{"s":"cnt","x":0.650,"y":8.5},{"s":"cnt","x":0.653,"y":15.5},{"s":"cnt","x":0.656,"y":30},{"s":"cnt","x":0.658,"y":52.5},{"s":"cnt","x":0.662,"y":95},{"s":"cnt","x":0.666,"y":178},{"s":"cnt","x":0.670,"y":330},{"s":"cnt","x":0.674,"y":617},{"s":"cnt","x":0.678,"y":1120},{"s":"cnt","x":0.682,"y":2090},{"s":"cnt","x":0.686,"y":3900},{"s":"cnt","x":0.689,"y":7080},{"s":"cnt","x":0.691,"y":13000},{"s":"cnt","x":0.693,"y":24500},{"s":"cnt","x":0.695,"y":45000},{"s":"cnt","x":0.697,"y":83200},{"s":"cnt","x":0.699,"y":180000},{"s":"cnt","x":0.701,"y":389000},{"s":"cnt","x":0.703,"y":600000},{"s":"cnt","x":0.705,"y":977000},{"s":"cnt","x":0.707,"y":1600000},{"s":"cnt","x":0.709,"y":2450000}
],
"A1t":[{"k":"info","t":"T=4.2 K","x":0.610,"y":23.4},{"k":"info","t":"w=0.53 μm","x":0.610,"y":2.0},{"k":"reg","t":"Regime I","x":0.696,"y":660},{"k":"reg","t":"Regime II","x":0.972,"y":660},{"k":"i2","t":"I₂","x":0.827,"y":16.6}],
"A1a":[{"who":"IDE","x":0.681,"x2":0.621,"y":0.038},{"who":"count","x":1.021,"x2":1.073,"y":6.0},{"who":"I2","x":0.826,"x2":0.775,"y":3.8}],
"A2t":[{"k":"info","t":"T=4.2 K","x":0.617,"y":24},{"k":"info","t":"w=2.12μm","x":0.617,"y":1.78}],
"A3t":[{"k":"info","t":"T=4.2 K","x":0.619,"y":26},{"k":"info","t":"w=3.07 μm","x":0.619,"y":1.66}],
"A4t":[{"k":"info","t":"T=4.2 K","x":0.610,"y":35},{"k":"info","t":"w=5.15 μm","x":0.610,"y":1.66}],
"B1t":[{"k":"info","t":"T=1.7 K","x":0.314,"y":37},{"k":"info","t":"w=0.53 μm","x":0.314,"y":2.7},{"k":"reg","t":"Regime I","x":0.450,"y":660},{"k":"reg","t":"Regime II","x":0.908,"y":660},{"k":"i2","t":"I₂","x":0.635,"y":0.002}],
"B1a":[{"who":"IDE","x":0.438,"x2":0.306,"y":0.0316},{"who":"count","x":1.037,"x2":1.146,"y":1.7},{"who":"I2","x":0.678,"x2":0.592,"y":0.0002}],
"B2t":[{"k":"info","t":"T=1.7 K","x":0.337,"y":20.4},{"k":"info","t":"w=2.12μm","x":0.337,"y":1.3}],
"B3t":[{"k":"info","t":"T=1.7 K","x":0.329,"y":16.6},{"k":"info","t":"w=3.07 μm","x":0.329,"y":0.89}],
"B4t":[{"k":"info","t":"T=1.7 K","x":0.318,"y":42},{"k":"info","t":"w=5.15 μm","x":0.318,"y":1.95}]
},
"hconcat":[
{"title":{"text":"a)","anchor":"start","frame":"bounds","offset":9,"dx":-25},
 "spacing":9,
 "bounds":"flush",
 "resolve":{"scale":{"shape":"independent","color":"independent"},"legend":{"shape":"independent","color":"independent"}},
 "vconcat":[
  {"width":424,"height":173,
   "layer":[
      {"data":{"name":"A1"},"transform":[{"filter":"datum.s!='cnt'"}],"mark":{"type":"line","color":"#00ff00","strokeWidth":1,"clip":true},
       "encoding":{"x":{"field":"x","type":"quantitative","scale":{"domain":[0.6,1.2],"nice":false,"zero":false},"axis":{"orient":"bottom","values":[0.6,0.65,0.7,0.75,0.8,0.85,0.9,0.95,1,1.05,1.1,1.15,1.2],"labels":false,"title":null}},
        "y":{"field":"y","type":"quantitative","scale":{"type":"log","domain":[1.6e-5,126],"nice":false},"axis":{"orient":"left","values":[2e-5,3e-5,4e-5,5e-5,6e-5,7e-5,8e-5,9e-5,1e-4,2e-4,3e-4,4e-4,5e-4,6e-4,7e-4,8e-4,9e-4,0.001,0.002,0.003,0.004,0.005,0.006,0.007,0.008,0.009,0.01,0.02,0.03,0.04,0.05,0.06,0.07,0.08,0.09,0.1,0.2,0.3,0.4,0.5,0.6,0.7,0.8,0.9,1,2,3,4,5,6,7,8,9,10,20,30,40,50,60,70,80,90,100],"labelExpr":"datum.value===10?'10¹':datum.value===0.1?'10⁻¹':datum.value===0.001?'10⁻³':''","labelPadding":11,"title":null}},
        "detail":{"field":"s"}}},
      {"data":{"name":"A1"},"transform":[{"filter":"datum.s!='cnt'"}],"mark":{"type":"point","filled":false,"color":"#00ff00","strokeWidth":1.2,"size":200,"opacity":1,"clip":true},
       "encoding":{"x":{"field":"x","type":"quantitative","axis":null},"y":{"field":"y","type":"quantitative","scale":{"type":"log","domain":[1.6e-5,126],"nice":false},"axis":null},
        "shape":{"field":"s","type":"nominal","scale":{"domain":["408","829","1550"],"range":["triangle-up","square","circle"]},"legend":{"title":null,"orient":"none","legendX":292,"legendY":90,"rowPadding":8,"labelOffset":19,"symbolSize":200,"symbolStrokeWidth":1.2,"labelExpr":"'λ=' + datum.label + ' nm'"}}}},
      {"data":{"values":[{"x":0.762}]},"mark":{"type":"rule","color":"red","strokeDash":[5,3],"strokeWidth":1},"encoding":{"x":{"field":"x","type":"quantitative","axis":null}}},
      {"data":{"name":"A1t"},"transform":[{"filter":"datum.k=='info'"}],"mark":{"type":"text","align":"left","baseline":"middle","fontSize":19,"fontWeight":"bold","color":"black"},"encoding":{"x":{"field":"x","type":"quantitative","axis":null},"y":{"field":"y","type":"quantitative","scale":{"type":"log","domain":[1.6e-5,126],"nice":false},"axis":null},"text":{"field":"t"}}},
      {"data":{"name":"A1t"},"transform":[{"filter":"datum.k=='reg'"}],"mark":{"type":"text","align":"center","baseline":"middle","fontSize":34,"fontWeight":"bold","fontStyle":"italic","color":"red"},"encoding":{"x":{"field":"x","type":"quantitative","axis":null},"y":{"field":"y","type":"quantitative","scale":{"type":"log","domain":[1.6e-5,126],"nice":false},"axis":null},"text":{"field":"t"}}},
      {"data":{"name":"A1t"},"transform":[{"filter":"datum.k=='i2'"}],"mark":{"type":"text","align":"center","baseline":"middle","fontSize":28,"color":"red"},"encoding":{"x":{"field":"x","type":"quantitative","axis":null},"y":{"field":"y","type":"quantitative","scale":{"type":"log","domain":[1.6e-5,126],"nice":false},"axis":null},"text":{"field":"t"}}},
      {"data":{"name":"A1a"},"mark":{"type":"rule","strokeWidth":1.5},"encoding":{"x":{"field":"x","type":"quantitative","axis":null},"x2":{"field":"x2"},"y":{"field":"y","type":"quantitative","scale":{"type":"log","domain":[1.6e-5,126],"nice":false},"axis":null},"color":{"field":"who","type":"nominal","scale":{"domain":["IDE","count","I2"],"range":["#00ff00","black","red"]},"legend":null}}},
      {"data":{"name":"A1a"},"transform":[{"filter":"datum.who!='count'"}],"mark":{"type":"point","shape":"triangle-left","filled":true,"size":70,"opacity":1},"encoding":{"x":{"field":"x2","type":"quantitative","axis":null},"y":{"field":"y","type":"quantitative","scale":{"type":"log","domain":[1.6e-5,126],"nice":false},"axis":null},"color":{"field":"who","type":"nominal","legend":null}}},
      {"data":{"name":"A1a"},"transform":[{"filter":"datum.who=='count'"}],"mark":{"type":"point","shape":"triangle-right","filled":true,"size":70,"opacity":1},"encoding":{"x":{"field":"x2","type":"quantitative","axis":null},"y":{"field":"y","type":"quantitative","scale":{"type":"log","domain":[1.6e-5,126],"nice":false},"axis":null},"color":{"field":"who","type":"nominal","legend":null}}},
      {"data":{"name":"A1"},"transform":[{"filter":"datum.s=='cnt'"}],"mark":{"type":"line","color":"#777777","strokeWidth":0.8,"clip":true},
       "encoding":{"x":{"field":"x","type":"quantitative","axis":{"orient":"top","values":[0.6,0.65,0.7,0.75,0.8,0.85,0.9,0.95,1,1.05,1.1,1.15,1.2],"labels":false,"title":null}},
        "y":{"field":"y","type":"quantitative","scale":{"type":"log","domain":[1.25,1e7],"nice":false},"axis":{"orient":"right","values":[2,3,4,5,6,7,8,9,10,20,30,40,50,60,70,80,90,100,200,300,400,500,600,700,800,900,1000,2000,3000,4000,5000,6000,7000,8000,9000,10000,20000,30000,40000,50000,60000,70000,80000,90000,100000,200000,300000,400000,500000,600000,700000,800000,900000,1000000,2000000,3000000,4000000,5000000,6000000,7000000,8000000,9000000,10000000],"labelExpr":"datum.value===10?'10¹':datum.value===1000?'10³':datum.value===100000?'10⁵':''","labelPadding":12,"title":null}}}},
      {"data":{"name":"A1"},"transform":[{"filter":"datum.s=='cnt'"}],"mark":{"type":"point","shape":"square","filled":false,"color":"#707070","strokeWidth":1,"size":60,"opacity":1,"clip":true},
       "encoding":{"x":{"field":"x","type":"quantitative","axis":null},"y":{"field":"y","type":"quantitative","scale":{"type":"log","domain":[1.25,1e7],"nice":false},"axis":null}}}
   ],
   "resolve":{"scale":{"y":"independent"},"axis":{"x":"independent","y":"independent"}}},
  {"width":424,"height":173,
   "layer":[
      {"data":{"name":"A2"},"transform":[{"filter":"datum.s!='cnt'"}],"mark":{"type":"line","color":"#ff0000","strokeWidth":1,"clip":true},
       "encoding":{"x":{"field":"x","type":"quantitative","scale":{"domain":[0.6,1.2],"nice":false,"zero":false},"axis":{"orient":"bottom","values":[0.6,0.65,0.7,0.75,0.8,0.85,0.9,0.95,1,1.05,1.1,1.15,1.2],"labels":false,"title":null}},
        "y":{"field":"y","type":"quantitative","scale":{"type":"log","domain":[1.6e-5,126],"nice":false},"axis":{"orient":"left","values":[2e-5,3e-5,4e-5,5e-5,6e-5,7e-5,8e-5,9e-5,1e-4,2e-4,3e-4,4e-4,5e-4,6e-4,7e-4,8e-4,9e-4,0.001,0.002,0.003,0.004,0.005,0.006,0.007,0.008,0.009,0.01,0.02,0.03,0.04,0.05,0.06,0.07,0.08,0.09,0.1,0.2,0.3,0.4,0.5,0.6,0.7,0.8,0.9,1,2,3,4,5,6,7,8,9,10,20,30,40,50,60,70,80,90,100],"labelExpr":"datum.value===10?'10¹':datum.value===0.1?'10⁻¹':datum.value===0.001?'10⁻³':''","labelPadding":11,"title":"IDE, %","titleX":-87,"titleY":177,"titleAngle":-90,"titleAlign":"center","titleBaseline":"middle"}},
        "detail":{"field":"s"}}},
      {"data":{"name":"A2"},"transform":[{"filter":"datum.s!='cnt'"}],"mark":{"type":"point","filled":false,"color":"#ff0000","strokeWidth":1.2,"size":200,"opacity":1,"clip":true},
       "encoding":{"x":{"field":"x","type":"quantitative","axis":null},"y":{"field":"y","type":"quantitative","scale":{"type":"log","domain":[1.6e-5,126],"nice":false},"axis":null},
        "shape":{"field":"s","type":"nominal","scale":{"domain":["408","829","1550"],"range":["triangle-up","square","circle"]},"legend":{"title":null,"orient":"none","legendX":295,"legendY":95,"rowPadding":8,"labelOffset":19,"symbolSize":200,"symbolStrokeWidth":1.2,"labelExpr":"'λ=' + datum.label + ' nm'"}}}},
      {"data":{"values":[{"x":0.901}]},"mark":{"type":"rule","color":"red","strokeDash":[5,3],"strokeWidth":1},"encoding":{"x":{"field":"x","type":"quantitative","axis":null}}},
      {"data":{"name":"A2t"},"mark":{"type":"text","align":"left","baseline":"middle","fontSize":19,"fontWeight":"bold","color":"black"},"encoding":{"x":{"field":"x","type":"quantitative","axis":null},"y":{"field":"y","type":"quantitative","scale":{"type":"log","domain":[1.6e-5,126],"nice":false},"axis":null},"text":{"field":"t"}}},
      {"data":{"name":"A2"},"transform":[{"filter":"datum.s=='cnt'"}],"mark":{"type":"line","color":"#888888","strokeWidth":0.8,"clip":true},
       "encoding":{"x":{"field":"x","type":"quantitative","axis":{"orient":"top","values":[0.6,0.65,0.7,0.75,0.8,0.85,0.9,0.95,1,1.05,1.1,1.15,1.2],"labels":false,"title":null}},
        "y":{"field":"y","type":"quantitative","scale":{"type":"log","domain":[1.25,1e7],"nice":false},"axis":{"orient":"right","values":[2,3,4,5,6,7,8,9,10,20,30,40,50,60,70,80,90,100,200,300,400,500,600,700,800,900,1000,2000,3000,4000,5000,6000,7000,8000,9000,10000,20000,30000,40000,50000,60000,70000,80000,90000,100000,200000,300000,400000,500000,600000,700000,800000,900000,1000000,2000000,3000000,4000000,5000000,6000000,7000000,8000000,9000000,10000000],"labelExpr":"datum.value===10?'10¹':datum.value===1000?'10³':datum.value===100000?'10⁵':''","labelPadding":12,"title":null}}}},
      {"data":{"name":"A2"},"transform":[{"filter":"datum.s=='cnt'"}],"mark":{"type":"point","shape":"square","filled":false,"color":"#888888","strokeWidth":1,"size":30,"opacity":1,"clip":true},
       "encoding":{"x":{"field":"x","type":"quantitative","axis":null},"y":{"field":"y","type":"quantitative","scale":{"type":"log","domain":[1.25,1e7],"nice":false},"axis":null}}}
   ],
   "resolve":{"scale":{"y":"independent"},"axis":{"x":"independent","y":"independent"}}},
  {"width":424,"height":173,
   "layer":[
      {"data":{"name":"A3"},"transform":[{"filter":"datum.s!='cnt'"}],"mark":{"type":"line","color":"#0000ff","strokeWidth":1,"clip":true},
       "encoding":{"x":{"field":"x","type":"quantitative","scale":{"domain":[0.6,1.2],"nice":false,"zero":false},"axis":{"orient":"bottom","values":[0.6,0.65,0.7,0.75,0.8,0.85,0.9,0.95,1,1.05,1.1,1.15,1.2],"labels":false,"title":null}},
        "y":{"field":"y","type":"quantitative","scale":{"type":"log","domain":[1.6e-5,126],"nice":false},"axis":{"orient":"left","values":[2e-5,3e-5,4e-5,5e-5,6e-5,7e-5,8e-5,9e-5,1e-4,2e-4,3e-4,4e-4,5e-4,6e-4,7e-4,8e-4,9e-4,0.001,0.002,0.003,0.004,0.005,0.006,0.007,0.008,0.009,0.01,0.02,0.03,0.04,0.05,0.06,0.07,0.08,0.09,0.1,0.2,0.3,0.4,0.5,0.6,0.7,0.8,0.9,1,2,3,4,5,6,7,8,9,10,20,30,40,50,60,70,80,90,100],"labelExpr":"datum.value===10?'10¹':datum.value===0.1?'10⁻¹':datum.value===0.001?'10⁻³':''","labelPadding":11,"title":null}},
        "detail":{"field":"s"}}},
      {"data":{"name":"A3"},"transform":[{"filter":"datum.s!='cnt'"}],"mark":{"type":"point","filled":false,"color":"#0000ff","strokeWidth":1.2,"size":200,"opacity":1,"clip":true},
       "encoding":{"x":{"field":"x","type":"quantitative","axis":null},"y":{"field":"y","type":"quantitative","scale":{"type":"log","domain":[1.6e-5,126],"nice":false},"axis":null},
        "shape":{"field":"s","type":"nominal","scale":{"domain":["408","829","1550"],"range":["triangle-up","square","circle"]},"legend":{"title":null,"orient":"none","legendX":290,"legendY":91,"rowPadding":9,"labelOffset":19,"symbolSize":200,"symbolStrokeWidth":1.2,"labelExpr":"'λ=' + datum.label + ' nm'"}}}},
      {"data":{"values":[{"x":0.824}]},"mark":{"type":"rule","color":"red","strokeDash":[5,3],"strokeWidth":1},"encoding":{"x":{"field":"x","type":"quantitative","axis":null}}},
      {"data":{"name":"A3t"},"mark":{"type":"text","align":"left","baseline":"middle","fontSize":19,"fontWeight":"bold","color":"black"},"encoding":{"x":{"field":"x","type":"quantitative","axis":null},"y":{"field":"y","type":"quantitative","scale":{"type":"log","domain":[1.6e-5,126],"nice":false},"axis":null},"text":{"field":"t"}}},
      {"data":{"name":"A3"},"transform":[{"filter":"datum.s=='cnt'"}],"mark":{"type":"line","color":"#666666","strokeWidth":0.8,"clip":true},
       "encoding":{"x":{"field":"x","type":"quantitative","axis":{"orient":"top","values":[0.6,0.65,0.7,0.75,0.8,0.85,0.9,0.95,1,1.05,1.1,1.15,1.2],"labels":false,"title":null}},
        "y":{"field":"y","type":"quantitative","scale":{"type":"log","domain":[1.25,1e7],"nice":false},"axis":{"orient":"right","values":[2,3,4,5,6,7,8,9,10,20,30,40,50,60,70,80,90,100,200,300,400,500,600,700,800,900,1000,2000,3000,4000,5000,6000,7000,8000,9000,10000,20000,30000,40000,50000,60000,70000,80000,90000,100000,200000,300000,400000,500000,600000,700000,800000,900000,1000000,2000000,3000000,4000000,5000000,6000000,7000000,8000000,9000000,10000000],"labelExpr":"datum.value===10?'10¹':datum.value===1000?'10³':datum.value===100000?'10⁵':''","labelPadding":12,"title":null}}}},
      {"data":{"name":"A3"},"transform":[{"filter":"datum.s=='cnt'"}],"mark":{"type":"point","shape":"square","filled":false,"color":"#666666","strokeWidth":1,"size":80,"opacity":1,"clip":true},
       "encoding":{"x":{"field":"x","type":"quantitative","axis":null},"y":{"field":"y","type":"quantitative","scale":{"type":"log","domain":[1.25,1e7],"nice":false},"axis":null}}}
   ],
   "resolve":{"scale":{"y":"independent"},"axis":{"x":"independent","y":"independent"}}},
  {"width":424,"height":173,
   "layer":[
      {"data":{"name":"A4"},"transform":[{"filter":"datum.s!='cnt'"}],"mark":{"type":"line","color":"#ff00ff","strokeWidth":1,"clip":true},
       "encoding":{"x":{"field":"x","type":"quantitative","scale":{"domain":[0.6,1.2],"nice":false,"zero":false},"axis":{"orient":"bottom","values":[0.6,0.65,0.7,0.75,0.8,0.85,0.9,0.95,1,1.05,1.1,1.15,1.2],"labelExpr":"indexof([0.6,0.8,1,1.2],datum.value)>=0?format(datum.value,'.1f'):''","labelPadding":12,"title":"Normalized current (Ibias/Idep)","titleX":212,"titleY":80,"titleAlign":"center","titleBaseline":"alphabetic"}},
        "y":{"field":"y","type":"quantitative","scale":{"type":"log","domain":[1.6e-5,126],"nice":false},"axis":{"orient":"left","values":[2e-5,3e-5,4e-5,5e-5,6e-5,7e-5,8e-5,9e-5,1e-4,2e-4,3e-4,4e-4,5e-4,6e-4,7e-4,8e-4,9e-4,0.001,0.002,0.003,0.004,0.005,0.006,0.007,0.008,0.009,0.01,0.02,0.03,0.04,0.05,0.06,0.07,0.08,0.09,0.1,0.2,0.3,0.4,0.5,0.6,0.7,0.8,0.9,1,2,3,4,5,6,7,8,9,10,20,30,40,50,60,70,80,90,100],"labelExpr":"datum.value===10?'10¹':datum.value===0.1?'10⁻¹':datum.value===0.001?'10⁻³':''","labelPadding":11,"title":null}},
        "detail":{"field":"s"}}},
      {"data":{"name":"A4"},"transform":[{"filter":"datum.s!='cnt'"}],"mark":{"type":"point","filled":false,"color":"#ff00ff","strokeWidth":1.2,"size":150,"opacity":1,"clip":true},
       "encoding":{"x":{"field":"x","type":"quantitative","axis":null},"y":{"field":"y","type":"quantitative","scale":{"type":"log","domain":[1.6e-5,126],"nice":false},"axis":null},
        "shape":{"field":"s","type":"nominal","scale":{"domain":["408"],"range":["triangle-up"]},"legend":{"title":null,"orient":"none","legendX":300,"legendY":148,"rowPadding":8,"labelOffset":19,"symbolSize":200,"symbolStrokeWidth":1.2,"labelExpr":"'λ=' + datum.label + ' nm'"}}}},
      {"data":{"name":"A4t"},"mark":{"type":"text","align":"left","baseline":"middle","fontSize":19,"fontWeight":"bold","color":"black"},"encoding":{"x":{"field":"x","type":"quantitative","axis":null},"y":{"field":"y","type":"quantitative","scale":{"type":"log","domain":[1.6e-5,126],"nice":false},"axis":null},"text":{"field":"t"}}},
      {"data":{"name":"A4"},"transform":[{"filter":"datum.s=='cnt'"}],"mark":{"type":"line","color":"#888888","strokeWidth":0.8,"clip":true},
       "encoding":{"x":{"field":"x","type":"quantitative","axis":{"orient":"top","values":[0.6,0.65,0.7,0.75,0.8,0.85,0.9,0.95,1,1.05,1.1,1.15,1.2],"labels":false,"title":null}},
        "y":{"field":"y","type":"quantitative","scale":{"type":"log","domain":[1.25,1e7],"nice":false},"axis":{"orient":"right","values":[2,3,4,5,6,7,8,9,10,20,30,40,50,60,70,80,90,100,200,300,400,500,600,700,800,900,1000,2000,3000,4000,5000,6000,7000,8000,9000,10000,20000,30000,40000,50000,60000,70000,80000,90000,100000,200000,300000,400000,500000,600000,700000,800000,900000,1000000,2000000,3000000,4000000,5000000,6000000,7000000,8000000,9000000,10000000],"labelExpr":"datum.value===10?'10¹':datum.value===1000?'10³':datum.value===100000?'10⁵':''","labelPadding":12,"title":null}}}},
      {"data":{"name":"A4"},"transform":[{"filter":"datum.s=='cnt'"}],"mark":{"type":"point","shape":"square","filled":false,"color":"#888888","strokeWidth":1,"size":30,"opacity":1,"clip":true},
       "encoding":{"x":{"field":"x","type":"quantitative","axis":null},"y":{"field":"y","type":"quantitative","scale":{"type":"log","domain":[1.25,1e7],"nice":false},"axis":null}}}
   ],
   "resolve":{"scale":{"y":"independent"},"axis":{"x":"independent","y":"independent"}}}
 ]},
{"title":{"text":"b)","anchor":"start","frame":"bounds","offset":9,"dx":-37},
 "spacing":9,
 "bounds":"flush",
 "resolve":{"scale":{"shape":"independent","color":"independent"},"legend":{"shape":"independent","color":"independent"}},
 "vconcat":[
  {"width":424,"height":173,
   "layer":[
      {"data":{"name":"B1"},"transform":[{"filter":"datum.s!='cnt'"}],"mark":{"type":"line","color":"#00ff00","strokeWidth":1,"clip":true},
       "encoding":{"x":{"field":"x","type":"quantitative","scale":{"domain":[0.295,1.29],"nice":false,"zero":false},"axis":{"orient":"bottom","values":[0.3,0.35,0.4,0.45,0.5,0.55,0.6,0.65,0.7,0.75,0.8,0.85,0.9,0.95,1,1.05,1.1,1.15,1.2,1.25],"labels":false,"title":null}},
        "y":{"field":"y","type":"quantitative","scale":{"type":"log","domain":[1.6e-5,126],"nice":false},"axis":{"orient":"left","values":[2e-5,3e-5,4e-5,5e-5,6e-5,7e-5,8e-5,9e-5,1e-4,2e-4,3e-4,4e-4,5e-4,6e-4,7e-4,8e-4,9e-4,0.001,0.002,0.003,0.004,0.005,0.006,0.007,0.008,0.009,0.01,0.02,0.03,0.04,0.05,0.06,0.07,0.08,0.09,0.1,0.2,0.3,0.4,0.5,0.6,0.7,0.8,0.9,1,2,3,4,5,6,7,8,9,10,20,30,40,50,60,70,80,90,100],"labelExpr":"datum.value===10?'10¹':datum.value===0.1?'10⁻¹':datum.value===0.001?'10⁻³':''","labelPadding":11,"title":null}},
        "detail":{"field":"s"}}},
      {"data":{"name":"B1"},"transform":[{"filter":"datum.s!='cnt'"}],"mark":{"type":"point","filled":true,"fill":"#00ff00","stroke":"black","strokeWidth":0.7,"size":190,"opacity":1,"clip":true},
       "encoding":{"x":{"field":"x","type":"quantitative","axis":null},"y":{"field":"y","type":"quantitative","scale":{"type":"log","domain":[1.6e-5,126],"nice":false},"axis":null},
        "shape":{"field":"s","type":"nominal","scale":{"domain":["408","829","1550"],"range":["triangle-up","square","circle"]},"legend":{"title":null,"orient":"none","legendX":292,"legendY":79,"rowPadding":12,"labelOffset":19,"symbolSize":200,"symbolStrokeWidth":0.7,"symbolFillColor":"#00ff00","symbolStrokeColor":"black","labelExpr":"'λ=' + datum.label + ' nm'","encode":{"symbols":{"update":{"stroke":{"value":"black"},"strokeWidth":{"value":0.7}}}}}}}},
      {"data":{"values":[{"x":0.570}]},"mark":{"type":"rule","color":"red","strokeDash":[5,3],"strokeWidth":1},"encoding":{"x":{"field":"x","type":"quantitative","axis":null}}},
      {"data":{"name":"B1t"},"transform":[{"filter":"datum.k=='info'"}],"mark":{"type":"text","align":"left","baseline":"middle","fontSize":19,"fontWeight":"bold","color":"black"},"encoding":{"x":{"field":"x","type":"quantitative","axis":null},"y":{"field":"y","type":"quantitative","scale":{"type":"log","domain":[1.6e-5,126],"nice":false},"axis":null},"text":{"field":"t"}}},
      {"data":{"name":"B1t"},"transform":[{"filter":"datum.k=='reg'"}],"mark":{"type":"text","align":"center","baseline":"middle","fontSize":34,"fontWeight":"bold","fontStyle":"italic","color":"red"},"encoding":{"x":{"field":"x","type":"quantitative","axis":null},"y":{"field":"y","type":"quantitative","scale":{"type":"log","domain":[1.6e-5,126],"nice":false},"axis":null},"text":{"field":"t"}}},
      {"data":{"name":"B1t"},"transform":[{"filter":"datum.k=='i2'"}],"mark":{"type":"text","align":"center","baseline":"middle","fontSize":28,"color":"red"},"encoding":{"x":{"field":"x","type":"quantitative","axis":null},"y":{"field":"y","type":"quantitative","scale":{"type":"log","domain":[1.6e-5,126],"nice":false},"axis":null},"text":{"field":"t"}}},
      {"data":{"name":"B1a"},"mark":{"type":"rule","strokeWidth":1.5},"encoding":{"x":{"field":"x","type":"quantitative","axis":null},"x2":{"field":"x2"},"y":{"field":"y","type":"quantitative","scale":{"type":"log","domain":[1.6e-5,126],"nice":false},"axis":null},"color":{"field":"who","type":"nominal","scale":{"domain":["IDE","count","I2"],"range":["#00ff00","black","red"]},"legend":null}}},
      {"data":{"name":"B1a"},"transform":[{"filter":"datum.who!='count'"}],"mark":{"type":"point","shape":"triangle-left","filled":true,"size":70,"opacity":1},"encoding":{"x":{"field":"x2","type":"quantitative","axis":null},"y":{"field":"y","type":"quantitative","scale":{"type":"log","domain":[1.6e-5,126],"nice":false},"axis":null},"color":{"field":"who","type":"nominal","legend":null}}},
      {"data":{"name":"B1a"},"transform":[{"filter":"datum.who=='count'"}],"mark":{"type":"point","shape":"triangle-right","filled":true,"size":70,"opacity":1},"encoding":{"x":{"field":"x2","type":"quantitative","axis":null},"y":{"field":"y","type":"quantitative","scale":{"type":"log","domain":[1.6e-5,126],"nice":false},"axis":null},"color":{"field":"who","type":"nominal","legend":null}}},
      {"data":{"name":"B1"},"transform":[{"filter":"datum.s=='cnt'"}],"mark":{"type":"line","color":"#666666","strokeWidth":0.8,"clip":true},
       "encoding":{"x":{"field":"x","type":"quantitative","axis":{"orient":"top","values":[0.3,0.35,0.4,0.45,0.5,0.55,0.6,0.65,0.7,0.75,0.8,0.85,0.9,0.95,1,1.05,1.1,1.15,1.2,1.25],"labels":false,"title":null}},
        "y":{"field":"y","type":"quantitative","scale":{"type":"log","domain":[1.25,1e7],"nice":false},"axis":{"orient":"right","values":[2,3,4,5,6,7,8,9,10,20,30,40,50,60,70,80,90,100,200,300,400,500,600,700,800,900,1000,2000,3000,4000,5000,6000,7000,8000,9000,10000,20000,30000,40000,50000,60000,70000,80000,90000,100000,200000,300000,400000,500000,600000,700000,800000,900000,1000000,2000000,3000000,4000000,5000000,6000000,7000000,8000000,9000000,10000000],"labelExpr":"datum.value===10?'10¹':datum.value===1000?'10³':datum.value===100000?'10⁵':''","labelPadding":12,"title":null}}}},
      {"data":{"name":"B1"},"transform":[{"filter":"datum.s=='cnt'"}],"mark":{"type":"point","shape":"square","filled":true,"fill":"white","stroke":"#555555","strokeWidth":1,"size":80,"opacity":1,"clip":true},
       "encoding":{"x":{"field":"x","type":"quantitative","axis":null},"y":{"field":"y","type":"quantitative","scale":{"type":"log","domain":[1.25,1e7],"nice":false},"axis":null}}}
   ],
   "resolve":{"scale":{"y":"independent"},"axis":{"x":"independent","y":"independent"}}},
  {"width":424,"height":173,
   "layer":[
      {"data":{"name":"B2"},"transform":[{"filter":"datum.s!='cnt'"}],"mark":{"type":"line","color":"#ff0000","strokeWidth":1,"clip":true},
       "encoding":{"x":{"field":"x","type":"quantitative","scale":{"domain":[0.295,1.29],"nice":false,"zero":false},"axis":{"orient":"bottom","values":[0.3,0.35,0.4,0.45,0.5,0.55,0.6,0.65,0.7,0.75,0.8,0.85,0.9,0.95,1,1.05,1.1,1.15,1.2,1.25],"labels":false,"title":null}},
        "y":{"field":"y","type":"quantitative","scale":{"type":"log","domain":[1.6e-5,126],"nice":false},"axis":{"orient":"left","values":[2e-5,3e-5,4e-5,5e-5,6e-5,7e-5,8e-5,9e-5,1e-4,2e-4,3e-4,4e-4,5e-4,6e-4,7e-4,8e-4,9e-4,0.001,0.002,0.003,0.004,0.005,0.006,0.007,0.008,0.009,0.01,0.02,0.03,0.04,0.05,0.06,0.07,0.08,0.09,0.1,0.2,0.3,0.4,0.5,0.6,0.7,0.8,0.9,1,2,3,4,5,6,7,8,9,10,20,30,40,50,60,70,80,90,100],"labelExpr":"datum.value===10?'10¹':datum.value===0.1?'10⁻¹':datum.value===0.001?'10⁻³':''","labelPadding":11,"title":"IDE, %","titleX":-80,"titleY":177,"titleAngle":-90,"titleAlign":"center","titleBaseline":"middle"}},
        "detail":{"field":"s"}}},
      {"data":{"name":"B2"},"transform":[{"filter":"datum.s!='cnt'"}],"mark":{"type":"point","filled":true,"fill":"#ff0000","stroke":"black","strokeWidth":0.7,"size":190,"opacity":1,"clip":true},
       "encoding":{"x":{"field":"x","type":"quantitative","axis":null},"y":{"field":"y","type":"quantitative","scale":{"type":"log","domain":[1.6e-5,126],"nice":false},"axis":null},
        "shape":{"field":"s","type":"nominal","scale":{"domain":["408","829","1550"],"range":["triangle-up","square","circle"]},"legend":{"title":null,"orient":"none","legendX":246,"legendY":64,"rowPadding":13,"labelOffset":19,"symbolSize":200,"symbolStrokeWidth":0.7,"symbolFillColor":"#ff0000","symbolStrokeColor":"black","labelExpr":"'λ=' + datum.label + ' nm'","encode":{"symbols":{"update":{"stroke":{"value":"black"},"strokeWidth":{"value":0.7}}}}}}}},
      {"data":{"values":[{"x":0.822}]},"mark":{"type":"rule","color":"red","strokeDash":[5,3],"strokeWidth":1},"encoding":{"x":{"field":"x","type":"quantitative","axis":null}}},
      {"data":{"name":"B2t"},"mark":{"type":"text","align":"left","baseline":"middle","fontSize":19,"fontWeight":"bold","color":"black"},"encoding":{"x":{"field":"x","type":"quantitative","axis":null},"y":{"field":"y","type":"quantitative","scale":{"type":"log","domain":[1.6e-5,126],"nice":false},"axis":null},"text":{"field":"t"}}},
      {"data":{"name":"B2"},"transform":[{"filter":"datum.s=='cnt'"}],"mark":{"type":"line","color":"#666666","strokeWidth":0.8,"clip":true},
       "encoding":{"x":{"field":"x","type":"quantitative","axis":{"orient":"top","values":[0.3,0.35,0.4,0.45,0.5,0.55,0.6,0.65,0.7,0.75,0.8,0.85,0.9,0.95,1,1.05,1.1,1.15,1.2,1.25],"labels":false,"title":null}},
        "y":{"field":"y","type":"quantitative","scale":{"type":"log","domain":[1.25,1e7],"nice":false},"axis":{"orient":"right","values":[2,3,4,5,6,7,8,9,10,20,30,40,50,60,70,80,90,100,200,300,400,500,600,700,800,900,1000,2000,3000,4000,5000,6000,7000,8000,9000,10000,20000,30000,40000,50000,60000,70000,80000,90000,100000,200000,300000,400000,500000,600000,700000,800000,900000,1000000,2000000,3000000,4000000,5000000,6000000,7000000,8000000,9000000,10000000],"labelExpr":"datum.value===10?'10¹':datum.value===1000?'10³':datum.value===100000?'10⁵':''","labelPadding":12,"title":null}}}},
      {"data":{"name":"B2"},"transform":[{"filter":"datum.s=='cnt'"}],"mark":{"type":"point","shape":"square","filled":true,"fill":"white","stroke":"#555555","strokeWidth":1,"size":80,"opacity":1,"clip":true},
       "encoding":{"x":{"field":"x","type":"quantitative","axis":null},"y":{"field":"y","type":"quantitative","scale":{"type":"log","domain":[1.25,1e7],"nice":false},"axis":null}}}
   ],
   "resolve":{"scale":{"y":"independent"},"axis":{"x":"independent","y":"independent"}}},
  {"width":424,"height":173,
   "layer":[
      {"data":{"name":"B3"},"transform":[{"filter":"datum.s!='cnt'"}],"mark":{"type":"line","color":"#0000ff","strokeWidth":1,"clip":true},
       "encoding":{"x":{"field":"x","type":"quantitative","scale":{"domain":[0.295,1.29],"nice":false,"zero":false},"axis":{"orient":"bottom","values":[0.3,0.35,0.4,0.45,0.5,0.55,0.6,0.65,0.7,0.75,0.8,0.85,0.9,0.95,1,1.05,1.1,1.15,1.2,1.25],"labels":false,"title":null}},
        "y":{"field":"y","type":"quantitative","scale":{"type":"log","domain":[1.6e-5,126],"nice":false},"axis":{"orient":"left","values":[2e-5,3e-5,4e-5,5e-5,6e-5,7e-5,8e-5,9e-5,1e-4,2e-4,3e-4,4e-4,5e-4,6e-4,7e-4,8e-4,9e-4,0.001,0.002,0.003,0.004,0.005,0.006,0.007,0.008,0.009,0.01,0.02,0.03,0.04,0.05,0.06,0.07,0.08,0.09,0.1,0.2,0.3,0.4,0.5,0.6,0.7,0.8,0.9,1,2,3,4,5,6,7,8,9,10,20,30,40,50,60,70,80,90,100],"labelExpr":"datum.value===10?'10¹':datum.value===0.1?'10⁻¹':datum.value===0.001?'10⁻³':''","labelPadding":11,"title":null}},
        "detail":{"field":"s"}}},
      {"data":{"name":"B3"},"transform":[{"filter":"datum.s!='cnt'"}],"mark":{"type":"point","filled":true,"fill":"#0000ff","stroke":"black","strokeWidth":0.7,"size":190,"opacity":1,"clip":true},
       "encoding":{"x":{"field":"x","type":"quantitative","axis":null},"y":{"field":"y","type":"quantitative","scale":{"type":"log","domain":[1.6e-5,126],"nice":false},"axis":null},
        "shape":{"field":"s","type":"nominal","scale":{"domain":["408","829","1550"],"range":["triangle-up","square","circle"]},"legend":{"title":null,"orient":"none","legendX":292,"legendY":94,"rowPadding":8,"labelOffset":19,"symbolSize":200,"symbolStrokeWidth":0.7,"symbolFillColor":"#0000ff","symbolStrokeColor":"black","labelExpr":"'λ=' + datum.label + ' nm'","encode":{"symbols":{"update":{"stroke":{"value":"black"},"strokeWidth":{"value":0.7}}}}}}}},
      {"data":{"values":[{"x":0.678}]},"mark":{"type":"rule","color":"red","strokeDash":[5,3],"strokeWidth":1},"encoding":{"x":{"field":"x","type":"quantitative","axis":null}}},
      {"data":{"name":"B3t"},"mark":{"type":"text","align":"left","baseline":"middle","fontSize":19,"fontWeight":"bold","color":"black"},"encoding":{"x":{"field":"x","type":"quantitative","axis":null},"y":{"field":"y","type":"quantitative","scale":{"type":"log","domain":[1.6e-5,126],"nice":false},"axis":null},"text":{"field":"t"}}},
      {"data":{"name":"B3"},"transform":[{"filter":"datum.s=='cnt'"}],"mark":{"type":"line","color":"#666666","strokeWidth":0.8,"clip":true},
       "encoding":{"x":{"field":"x","type":"quantitative","axis":{"orient":"top","values":[0.3,0.35,0.4,0.45,0.5,0.55,0.6,0.65,0.7,0.75,0.8,0.85,0.9,0.95,1,1.05,1.1,1.15,1.2,1.25],"labels":false,"title":null}},
        "y":{"field":"y","type":"quantitative","scale":{"type":"log","domain":[1.25,1e7],"nice":false},"axis":{"orient":"right","values":[2,3,4,5,6,7,8,9,10,20,30,40,50,60,70,80,90,100,200,300,400,500,600,700,800,900,1000,2000,3000,4000,5000,6000,7000,8000,9000,10000,20000,30000,40000,50000,60000,70000,80000,90000,100000,200000,300000,400000,500000,600000,700000,800000,900000,1000000,2000000,3000000,4000000,5000000,6000000,7000000,8000000,9000000,10000000],"labelExpr":"datum.value===10?'10¹':datum.value===1000?'10³':datum.value===100000?'10⁵':''","labelPadding":12,"title":null}}}},
      {"data":{"name":"B3"},"transform":[{"filter":"datum.s=='cnt'"}],"mark":{"type":"point","shape":"square","filled":true,"fill":"white","stroke":"#555555","strokeWidth":1,"size":80,"opacity":1,"clip":true},
       "encoding":{"x":{"field":"x","type":"quantitative","axis":null},"y":{"field":"y","type":"quantitative","scale":{"type":"log","domain":[1.25,1e7],"nice":false},"axis":null}}}
   ],
   "resolve":{"scale":{"y":"independent"},"axis":{"x":"independent","y":"independent"}}},
  {"width":424,"height":173,
   "layer":[
      {"data":{"name":"B4"},"transform":[{"filter":"datum.s!='cnt'"}],"mark":{"type":"line","color":"#ff00ff","strokeWidth":1,"clip":true},
       "encoding":{"x":{"field":"x","type":"quantitative","scale":{"domain":[0.295,1.29],"nice":false,"zero":false},"axis":{"orient":"bottom","values":[0.3,0.35,0.4,0.45,0.5,0.55,0.6,0.65,0.7,0.75,0.8,0.85,0.9,0.95,1,1.05,1.1,1.15,1.2,1.25],"labelExpr":"indexof([0.4,0.6,0.8,1,1.2],datum.value)>=0?format(datum.value,'.1f'):''","labelPadding":12,"title":"Normalized current (Ibias/Idep)","titleX":212,"titleY":80,"titleAlign":"center","titleBaseline":"alphabetic"}},
        "y":{"field":"y","type":"quantitative","scale":{"type":"log","domain":[1.6e-5,126],"nice":false},"axis":{"orient":"left","values":[2e-5,3e-5,4e-5,5e-5,6e-5,7e-5,8e-5,9e-5,1e-4,2e-4,3e-4,4e-4,5e-4,6e-4,7e-4,8e-4,9e-4,0.001,0.002,0.003,0.004,0.005,0.006,0.007,0.008,0.009,0.01,0.02,0.03,0.04,0.05,0.06,0.07,0.08,0.09,0.1,0.2,0.3,0.4,0.5,0.6,0.7,0.8,0.9,1,2,3,4,5,6,7,8,9,10,20,30,40,50,60,70,80,90,100],"labelExpr":"datum.value===10?'10¹':datum.value===0.1?'10⁻¹':datum.value===0.001?'10⁻³':''","labelPadding":11,"title":null}},
        "detail":{"field":"s"}}},
      {"data":{"name":"B4"},"transform":[{"filter":"datum.s!='cnt'"}],"mark":{"type":"point","filled":true,"fill":"#ff00ff","stroke":"black","strokeWidth":0.7,"size":190,"opacity":1,"clip":true},
       "encoding":{"x":{"field":"x","type":"quantitative","axis":null},"y":{"field":"y","type":"quantitative","scale":{"type":"log","domain":[1.6e-5,126],"nice":false},"axis":null},
        "shape":{"field":"s","type":"nominal","scale":{"domain":["408","828","1550"],"range":["triangle-up","square","circle"]},"legend":{"title":null,"orient":"none","legendX":288,"legendY":91,"rowPadding":9,"labelOffset":19,"symbolSize":200,"symbolStrokeWidth":0.7,"symbolFillColor":"#ff00ff","symbolStrokeColor":"black","labelExpr":"'λ=' + datum.label + ' nm'","encode":{"symbols":{"update":{"stroke":{"value":"black"},"strokeWidth":{"value":0.7}}}}}}}},
      {"data":{"values":[{"x":0.611}]},"mark":{"type":"rule","color":"red","strokeDash":[5,3],"strokeWidth":1},"encoding":{"x":{"field":"x","type":"quantitative","axis":null}}},
      {"data":{"name":"B4t"},"mark":{"type":"text","align":"left","baseline":"middle","fontSize":19,"fontWeight":"bold","color":"black"},"encoding":{"x":{"field":"x","type":"quantitative","axis":null},"y":{"field":"y","type":"quantitative","scale":{"type":"log","domain":[1.6e-5,126],"nice":false},"axis":null},"text":{"field":"t"}}},
      {"data":{"name":"B4"},"transform":[{"filter":"datum.s=='cnt'"}],"mark":{"type":"line","color":"#666666","strokeWidth":0.8,"clip":true},
       "encoding":{"x":{"field":"x","type":"quantitative","axis":{"orient":"top","values":[0.3,0.35,0.4,0.45,0.5,0.55,0.6,0.65,0.7,0.75,0.8,0.85,0.9,0.95,1,1.05,1.1,1.15,1.2,1.25],"labels":false,"title":null}},
        "y":{"field":"y","type":"quantitative","scale":{"type":"log","domain":[1.25,1e7],"nice":false},"axis":{"orient":"right","values":[2,3,4,5,6,7,8,9,10,20,30,40,50,60,70,80,90,100,200,300,400,500,600,700,800,900,1000,2000,3000,4000,5000,6000,7000,8000,9000,10000,20000,30000,40000,50000,60000,70000,80000,90000,100000,200000,300000,400000,500000,600000,700000,800000,900000,1000000,2000000,3000000,4000000,5000000,6000000,7000000,8000000,9000000,10000000],"labelExpr":"datum.value===10?'10¹':datum.value===1000?'10³':datum.value===100000?'10⁵':''","labelPadding":12,"title":null}}}},
      {"data":{"name":"B4"},"transform":[{"filter":"datum.s=='cnt'"}],"mark":{"type":"point","shape":"square","filled":true,"fill":"white","stroke":"#555555","strokeWidth":1,"size":80,"opacity":1,"clip":true},
       "encoding":{"x":{"field":"x","type":"quantitative","axis":null},"y":{"field":"y","type":"quantitative","scale":{"type":"log","domain":[1.25,1e7],"nice":false},"axis":null}}}
   ],
   "resolve":{"scale":{"y":"independent"},"axis":{"x":"independent","y":"independent"}}}
 ]}
]
}
